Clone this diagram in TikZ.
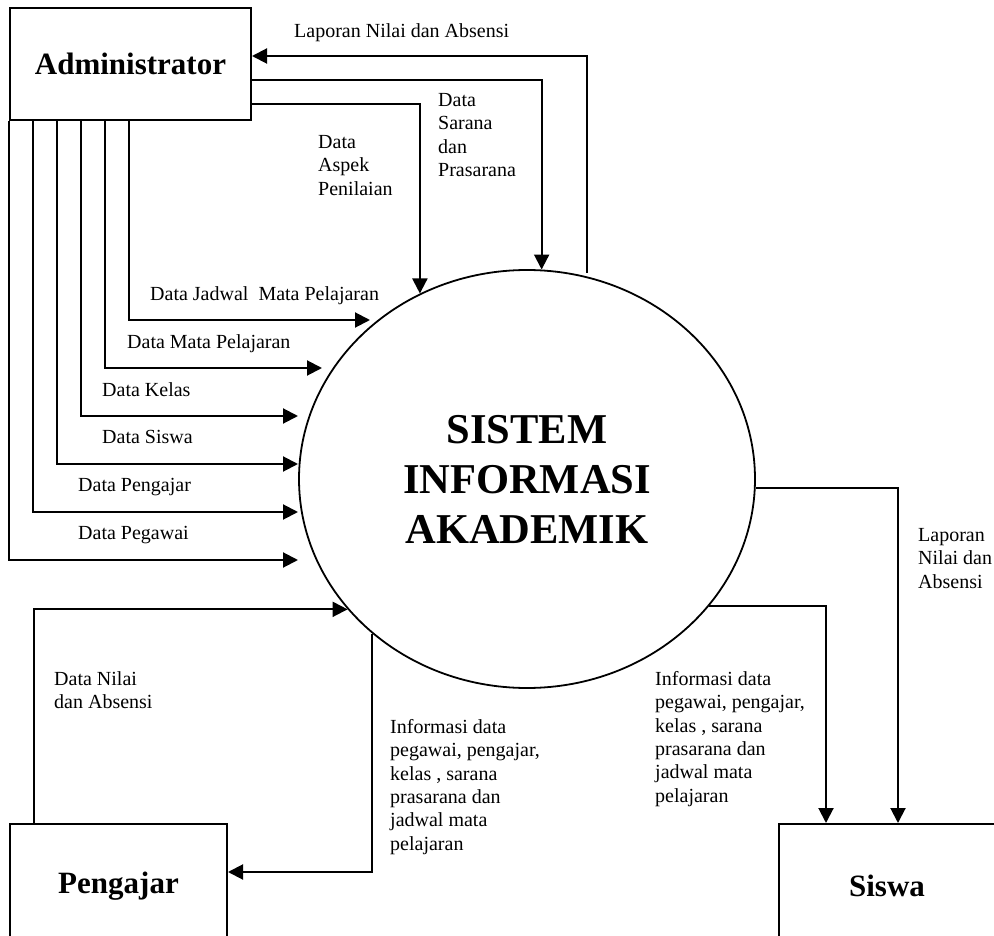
\documentclass[tikz,border=0pt]{standalone}
\usepackage{fontspec}
\setmainfont{Liberation Serif}
\usepackage{tikz}
\usetikzlibrary{shapes.geometric, arrows.meta, positioning}

\begin{document}
\begin{tikzpicture}[
    x=1pt, y=-1pt,
    entity/.style={rectangle, draw, line width=2pt, inner sep=0pt, font=\bfseries\fontsize{31}{36}\selectfont},
    process/.style={ellipse, draw, line width=1.8pt, inner sep=0pt, minimum width=456pt, minimum height=418pt, align=center, font=\bfseries\fontsize{42.5}{50}\selectfont},
    flow/.style={-{Triangle[length=15pt, width=15pt]}, line width=2pt},
    flowtext/.style={inner sep=0pt, align=left, anchor=north west, font=\fontsize{20}{23.4}\selectfont}
]
\useasboundingbox (0,0) rectangle (994,936);
\clip (0,0) rectangle (994,936);

% Entities and process
\node[entity, minimum width=241pt, minimum height=112pt] (adm) at (130.5,64) {Administrator};
\node[entity, minimum width=217pt, minimum height=124pt] (pgj) at (118.5,886) {Pengajar};
\node[entity, minimum width=216pt, minimum height=124pt] (sis) at (887,886) {Siswa};
\node[process] (sia) at (527,479) {SISTEM\\INFORMASI\\AKADEMIK};

% Flows between administrator and system
\coordinate (lapOut) at (587,273);
\draw[flow] (lapOut) |- (adm.east |- 0,56);
\draw[flow] (adm.east |- 0,80) -| (sia.86.4);
\draw[flow] (adm.east |- 0,104) -| (sia.120);
\node[flowtext] (lapAdmText) at (294,23) {Laporan Nilai dan Absensi};
\node[flowtext] (sarText) at (438,93) {Data\\Sarana\\dan\\Prasarana};
\node[flowtext] (aspText) at (318,135) {Data\\Aspek\\Penilaian};

% Master data flows
\foreach \dx/\yy/\tip/\lx/\txt in {0/560/298/78/Data Pegawai, 24/512/298/78/Data Pengajar, 48/464/298/102/Data Siswa, 72/416/298/102/Data Kelas, 96/368/322/127/Data Mata Pelajaran, 120/320/370/150/Data Jadwal~ Mata Pelajaran}{
  \coordinate (tip) at (\tip,\yy);
  \draw[flow] ([xshift=\dx pt]adm.south west) |- (tip);
  \node[flowtext] at (\lx,\yy-34) {\txt};
}

% Flows with pengajar
\draw[flow] ([xshift=25pt]pgj.north west) |- (sia.-144.8);
\draw[flow] (sia.-135.6) |- (pgj.east |- 0,872);
\node[flowtext] (nilaiText) at (54,671) {Data Nilai\\dan Absensi};
\node[flowtext] (infoPText) at (390,719) {Informasi data\\pegawai, pengajar,\\kelas , sarana\\prasarana dan\\jadwal mata\\pelajaran};

% Flows with siswa
\draw[flow] (sia.-35.6) -| ([xshift=48pt]sis.north west);
\draw[flow] (sia.east |- 0,488) -| ([xshift=120pt]sis.north west);
\node[flowtext] (infoSText) at (655,671) {Informasi data\\pegawai, pengajar,\\kelas , sarana\\prasarana dan\\jadwal mata\\pelajaran};
\node[flowtext] (lapSisText) at (918,528) {Laporan\\Nilai dan\\Absensi};
\end{tikzpicture}
\end{document}
